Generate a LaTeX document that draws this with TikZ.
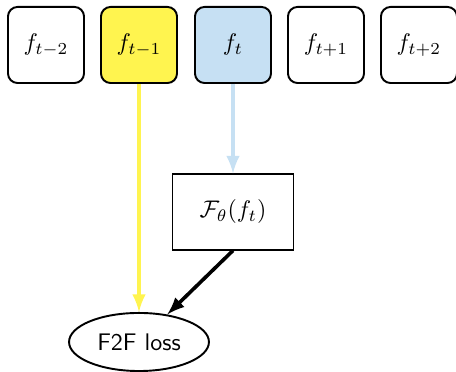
\documentclass[tikz,border=0pt]{standalone}
\usepackage{amsmath}
\definecolor{prevyellow}{HTML}{FFF44F}
\definecolor{curblue}{HTML}{C6E0F3}
\tikzset{
    frame/.style={draw, thick, rounded corners=4pt, minimum width=31.7pt, minimum height=31.7pt, inner sep=0pt},
    net/.style={draw, thick, minimum width=50.4pt, minimum height=31.3pt, inner sep=0pt},
    loss/.style={draw, thick, ellipse, minimum width=58.3pt, minimum height=24.2pt, inner sep=0pt},
    flow/.style={line width=1.5pt, -latex},
}
\usetikzlibrary{shapes.geometric}
\begin{document}
\begin{tikzpicture}[x=0.4167pt, y=-0.4167pt]
    \useasboundingbox (0,0) rectangle (456,372);

    \node[frame] (f1) at (46,45) {$f_{t-2}$};
    \node[frame, fill=prevyellow] (f2) at (139,45) {$f_{t-1}$};
    \node[frame, fill=curblue] (f3) at (233,45) {$f_{t}$};
    \node[frame] (f4) at (326,45) {$f_{t+1}$};
    \node[frame] (f5) at (419,45) {$f_{t+2}$};

    \node[net] (model) at (233,212) {$\mathcal{F}_\theta(f_t)$};
    \node[loss] (f2f) at (139,342) {\sffamily F2F loss};

    \draw[flow, prevyellow] (f2) -- (f2f);
    \draw[flow, curblue] (f3) -- (model);
    \draw[flow] (model.south) -- (f2f);
\end{tikzpicture}
\end{document}
